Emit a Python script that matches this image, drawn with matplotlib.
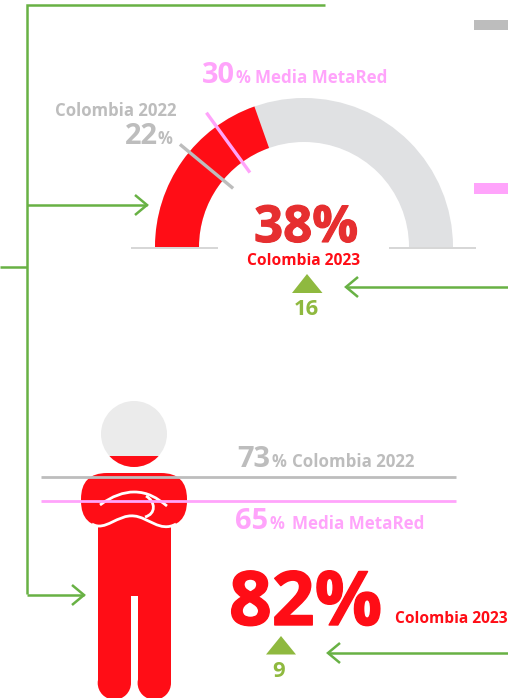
import matplotlib
matplotlib.use('Agg')
import matplotlib.pyplot as plt
import matplotlib.patheffects as pe
from matplotlib.patches import Wedge, Circle, Rectangle, FancyBboxPatch, Polygon, PathPatch
from matplotlib.path import Path
import numpy as np

# values
gauge_now = 38
gauge_drawn = 39.2   # the red arc ends a bit past 38 in the original
gauge_2022 = 22
gauge_media = 30
gauge_change = 16

person_now = 82
person_fill = 80     # where the red stops inside the head, on the same scale as the lines
person_2022 = 73
person_media = 65
person_change = 9

label_now = 'Colombia 2023'
label_old = 'Colombia 2022'
label_media = 'Media MetaRed'

RED = '#ff0d16'
RED2 = '#e62f30'
GREY = '#bdbdbd'
PINK = '#ffa4fb'
TRACK = '#e0e1e3'
GREEN = '#68b144'
OLIVE = '#8fb93f'

plt.rcParams['font.family'] = ['Open Sans', 'DejaVu Sans']

fig = plt.figure(figsize=(5.08, 6.98), dpi=100)
ax = fig.add_axes([0, 0, 1, 1])
ax.set_xlim(0, 508)
ax.set_ylim(698, 0)
ax.axis('off')


def px(size):
    return size * 0.72


def txt(x, y, s, size, color, ha='left', heavy=0):
    t = ax.text(x, y, s, fontsize=px(size), color=color, fontweight='bold', ha=ha, va='baseline')
    if heavy:
        t.set_path_effects([pe.withStroke(linewidth=heavy, foreground=color)])
    return t


def green(xs, ys):
    ax.plot(xs, ys, color=GREEN, lw=1.8, solid_capstyle='butt', solid_joinstyle='miter')


def arrow(x0, x1, y):
    d = 1 if x1 > x0 else -1
    green([x0, x1], [y, y])
    green([x1 - d * 12, x1, x1 - d * 12], [y - 10, y, y + 10])


# connectors
green([325, 27, 27], [5, 5, 594])
green([0, 27], [267, 267])
arrow(27, 147, 205)
arrow(27, 84, 595)
arrow(508, 346, 287)
arrow(508, 328, 653)

# bits of the legend cut by the crop
ax.add_patch(Rectangle((474, 20), 34, 10, color=GREY, lw=0))
ax.add_patch(Rectangle((474, 183), 34, 10.5, color=PINK, lw=0))

# gauge
cx, cy = 304, 247
r_out, r_in = 149, 105
ax.add_patch(Wedge((cx, cy), r_out, 180, 360, width=r_out - r_in, color=TRACK, lw=0))
ax.add_patch(Wedge((cx, cy), r_out, 180, 180 + gauge_drawn * 1.8, width=r_out - r_in, color=RED, lw=0))
ax.plot([131, 218], [247.5, 247.5], color='#cfcfcf', lw=1.2, solid_capstyle='butt')
ax.plot([389, 476], [247.5, 247.5], color='#cfcfcf', lw=1.2, solid_capstyle='butt')

for share, color, r0, r1 in [(gauge_2022, GREY, 92, 161), (gauge_media, PINK, 92, 166)]:
    a = np.radians(share * 1.8)
    ax.plot([cx - r0 * np.cos(a), cx - r1 * np.cos(a)],
            [cy - r0 * np.sin(a), cy - r1 * np.sin(a)],
            color=color, lw=2.4, solid_capstyle='butt')

txt(202, 83, str(gauge_media), 29, PINK)
txt(235, 83, '%', 16.5, PINK)
txt(255, 83, label_media, 17, PINK)
txt(55, 116, label_old, 16.8, GREY)
txt(125, 144, str(gauge_2022), 29, GREY)
txt(158, 144, '%', 16.5, GREY)
txt(254, 242, '%d%%' % gauge_now, 51, RED2, heavy=0.8)
txt(247, 265, label_now, 15.6, RED)
ax.add_patch(Polygon([(292, 293), (322.5, 293), (307, 274)], color=OLIVE, lw=0))
txt(306, 315, str(gauge_change), 22, OLIVE, ha='center')

# person
hx, hy, hr = 134, 434, 33
level = lambda v: 695.7 - 3 * v
ax.add_patch(Circle((hx, hy), hr, color='#ebebeb', lw=0))
head = Circle((hx, hy), hr, color=RED, lw=0)
ax.add_patch(head)
head.set_clip_path(Rectangle((hx - hr, level(person_fill)), 2 * hr, 60, transform=ax.transData))

ax.add_patch(FancyBboxPatch((81 + 26, 473 + 26), 106 - 52, 54 - 52, boxstyle='round,pad=26,rounding_size=26',
                            color=RED, lw=0))
ax.add_patch(Rectangle((97.7, 510), 73.3, 86, color=RED, lw=0))
for x0, x1 in [(97.7, 131), (137.6, 171)]:
    ax.add_patch(Rectangle((x0, 590), x1 - x0, 93, color=RED, lw=0))
    ax.add_patch(Circle(((x0 + x1) / 2, 683), (x1 - x0) / 2, color=RED, lw=0))

# folded arms, white strokes
C4 = Path.CURVE4
arm_low = Path([(92, 524), (105, 532), (118, 514), (134, 516), (148, 517), (160, 533), (176, 524)],
               [Path.MOVETO, C4, C4, C4, C4, C4, C4])
arm_up = Path([(100, 505), (112, 496), (124, 492), (134, 492), (148, 492), (157, 498), (167, 506)],
              [Path.MOVETO, C4, C4, C4, C4, C4, C4])
arm_fold = Path([(146, 496), (156, 502), (156, 514), (145, 517)], [Path.MOVETO, C4, C4, C4])
for p in [arm_low, arm_up, arm_fold]:
    ax.add_patch(PathPatch(p, fc='none', ec='white', lw=2.0))

ax.plot([41, 456], [level(person_2022), level(person_2022)], color=GREY, lw=2.0, solid_capstyle='butt')
ax.plot([41, 456], [level(person_media), level(person_media)], color=PINK, lw=2.0, solid_capstyle='butt')

txt(237, 467, str(person_2022), 29, GREY)
txt(271, 467, '%', 16.5, GREY)
txt(292, 467, label_old, 16.9, GREY)
txt(235, 529, str(person_media), 29, PINK)
txt(269, 529, '%', 16.5, PINK)
txt(292, 529, label_media, 17, PINK)
txt(229, 625, '%d%%' % person_now, 75, RED, heavy=1.0)
txt(395, 623, label_now, 15.5, RED)
ax.add_patch(Polygon([(266, 654.5), (296, 654.5), (281, 636)], color=OLIVE, lw=0))
txt(279, 677, str(person_change), 22, OLIVE, ha='center')

fig.savefig('out.png', dpi=100)
